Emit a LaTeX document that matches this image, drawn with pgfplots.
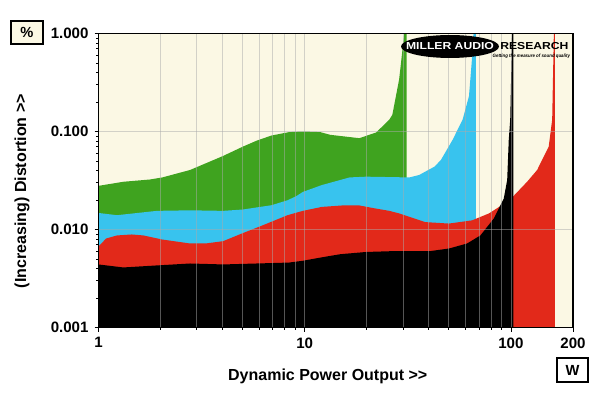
\documentclass[border=0pt]{standalone}
\usepackage{fontspec}
\setmainfont{Liberation Sans}
\usepackage{pgfplots}
\pgfplotsset{compat=1.18}
\definecolor{cream}{HTML}{FBF8E4}
\definecolor{mgreen}{HTML}{3FA31F}
\definecolor{mblue}{HTML}{38C3EE}
\definecolor{mred}{HTML}{E2291A}
\definecolor{gridc}{HTML}{ABABAB}
\begin{document}
\begin{tikzpicture}
\useasboundingbox (0,0) rectangle (450pt,294.75pt);
\begin{axis}[
  at={(73.875pt,49.125pt)}, anchor=south west,
  scale only axis, width=355.875pt, height=220.5pt,
  xmode=log, ymode=log,
  xmin=1, xmax=200, ymin=0.001, ymax=1,
  axis background/.style={fill=cream},
  axis line style={line width=1.2pt},
  axis on top,
  xtick={1,10,100,200}, xticklabels={1,10,100,200},
  minor xtick={2,3,4,5,6,7,8,9,20,30,40,50,60,70,80,90},
  ytick={0.001,0.01,0.1,1}, yticklabels={0.001,0.010,0.100,1.000},
  minor ytick={0.002,0.003,0.004,0.005,0.006,0.007,0.008,0.009,0.02,0.03,0.04,0.05,0.06,0.07,0.08,0.09,0.2,0.3,0.4,0.5,0.6,0.7,0.8,0.9},
  tick align=outside, tick pos=left,
  major tick length=3pt, minor tick length=1.8pt,
  tick style={black, line width=0.6pt},
  xmajorgrids, xminorgrids, ymajorgrids, yminorgrids=false,
  grid style={gridc, opacity=0.5, line width=0.65pt},
  minor grid style={gridc, opacity=0.5, line width=0.65pt},
  /pgf/number format/assume math mode=true,
  ticklabel style={font=\fontsize{11.3}{13}\selectfont\bfseries},
  xticklabel style={yshift=-1pt},
  yticklabel style={xshift=-1pt},
  xlabel={Dynamic Power Output {>}{>}},
  ylabel={(Increasing) Distortion {>}{>}},
  label style={font=\fontsize{12}{14}\selectfont\bfseries},
  xlabel style={yshift=-9pt, xshift=-6pt},
  ylabel style={yshift=9pt, xshift=-8pt},
]
% green
\addplot[fill=mgreen, draw=none] coordinates {
(1,0.001)(1,0.0279)(1.32,0.0307)(1.78,0.0324)(2.04,0.034)(2.78,0.0405)(4.02,0.0563)(5.02,0.0702)(5.86,0.0808)(6.9,0.091)(8.4,0.0986)(9.8,0.1)(11.9,0.0986)(13.3,0.0925)(18.4,0.0855)(22.2,0.0977)(25.7,0.132)(26.6,0.148)(28.7,0.34)(30.4,1.0)(31.2,1.0)(31.2,0.001)};
% blue
\addplot[fill=mblue, draw=none] coordinates {
(1,0.001)(1,0.01475)(1.23,0.014)(1.92,0.0155)(2.78,0.0157)(4.02,0.0155)(5.02,0.016)(5.85,0.0168)(6.91,0.0177)(8.26,0.0199)(9.1,0.0219)(9.8,0.0242)(12.1,0.0284)(16.5,0.034)(19.9,0.0346)(32.2,0.034)(35.9,0.036)(42.5,0.0437)(45.7,0.051)(52.1,0.082)(58.3,0.132)(62.6,0.23)(64.5,0.5)(65.9,1.0)(67.6,1.0)(67.6,0.001)};
% red
\addplot[fill=mred, draw=none] coordinates {
(1,0.001)(1,0.00673)(1.09,0.0081)(1.23,0.0087)(1.45,0.0089)(1.65,0.0087)(2.04,0.0079)(2.78,0.0072)(3.3,0.0072)(4.02,0.0076)(5.02,0.0092)(6.1,0.0108)(8.26,0.014)(9.8,0.0155)(12.1,0.017)(15.2,0.0176)(18.4,0.0176)(21.3,0.0166)(25.7,0.0155)(28.7,0.0146)(38.4,0.0119)(50.1,0.0115)(64.8,0.0124)(78.3,0.0146)(87.6,0.017)(102.8,0.0219)(119.8,0.0307)(134,0.0405)(152.5,0.0702)(158.5,0.132)(161.5,1.0)(163.2,1.0)(163.2,0.001)};
% black
\addplot[fill=black, draw=none] coordinates {
(1,0.001)(1,0.0044)(1.32,0.0041)(1.92,0.0043)(2.78,0.0045)(4.02,0.0044)(5.85,0.0045)(8.4,0.0046)(9.8,0.0048)(12.1,0.0052)(14.9,0.0056)(19.9,0.0059)(25.7,0.006)(32.2,0.006)(40.1,0.006)(50.1,0.0064)(61.3,0.0072)(71.1,0.0087)(82.5,0.0129)(92.3,0.0207)(95.9,0.032)(97.6,0.082)(99.2,0.132)(101.3,1.0)(102.8,1.0)(102.8,0.001)};
\end{axis}
% unit boxes
\draw[fill=cream, line width=0.9pt] (8.25pt,261.75pt) rectangle (32.25pt,279pt);
\node[font=\fontsize{11}{13}\selectfont\bfseries] at (20.25pt,270.4pt) {\%};
\draw[fill=white, line width=0.9pt] (417.75pt,8.25pt) rectangle (441pt,26.25pt);
\node[font=\fontsize{11}{13}\selectfont\bfseries] at (429.4pt,17.25pt) {W};
% logo
\fill[black] (337.5pt,259.875pt) ellipse (36.75pt and 8.6pt);
\node[text=white, font=\fontsize{7.6}{8}\selectfont\bfseries, xscale=1.2, inner sep=0pt] at (337.5pt,260pt) {MILLER AUDIO};
\node[text=black, font=\fontsize{7.6}{8}\selectfont\bfseries, xscale=1.2, inner sep=0pt] at (400.8pt,260pt) {RESEARCH};
\node[inner sep=0pt] at (398.5pt,252.6pt) {\resizebox{58pt}{2.6pt}{\bfseries\itshape Getting the measure of sound quality}};
\end{tikzpicture}
\end{document}
